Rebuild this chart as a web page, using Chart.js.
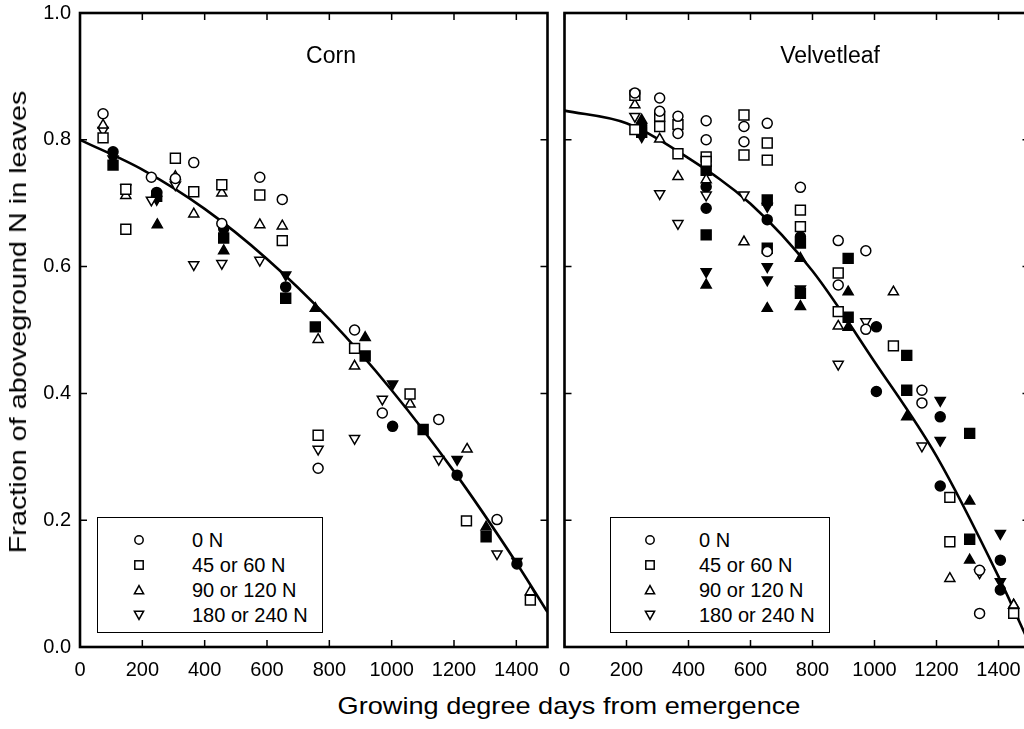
<!DOCTYPE html>
<html>
<head>
<meta charset="utf-8">
<title>Fraction of aboveground N in leaves</title>
<script src="https://cdn.jsdelivr.net/npm/chart.js@4.4.1/dist/chart.umd.min.js"></script>
<style>
  body {
    margin: 0;
    width: 1024px;
    height: 729px;
    overflow: hidden;
    position: relative;
    background: #fff;
    color: #000;
    font-family: "Liberation Sans", Arial, sans-serif;
  }
  canvas { position: absolute; top: 0; }
  #corn { left: 0; }
  #velvet { left: 556px; }
  .panel-title {
    position: absolute;
    font-size: 23px;
    white-space: nowrap;
    transform: translate(-50%, -50%);
  }
  .axis-title {
    position: absolute;
    font-size: 24px;
    white-space: nowrap;
  }
  .legend {
    position: absolute;
    top: 517px;
    height: 116px;
    box-sizing: border-box;
    border: 1.5px solid #000;
    background: #fff;
  }
  .legend .mark, .legend .label {
    position: absolute;
    transform: translateY(-50%);
  }
  .legend .mark { width: 12px; height: 12px; margin-left: -6px; }
  .legend .label { font-size: 20px; white-space: nowrap; }
</style>
</head>
<body>
<canvas id="corn" width="556" height="682"></canvas>
<canvas id="velvet" width="482" height="682"></canvas>

<div class="panel-title" style="left:331px; top:55px;">Corn</div>
<div class="panel-title" style="left:830px; top:55px;">Velvetleaf</div>

<div class="axis-title" style="left:18px; top:322px; transform: translate(-50%, -50%) rotate(-90deg) scaleX(1.2);">Fraction of aboveground N in leaves</div>
<div class="axis-title" style="left:569px; top:706px; transform: translate(-50%, -50%) scaleX(1.13);">Growing degree days from emergence</div>

<div class="legend" id="corn-legend" style="left:97px; width:226px;"></div>
<div class="legend" id="velvet-legend" style="left:610px; width:220px;"></div>

<script>
// N rate groups (legend order)
const treatments = ['0 N', '45 or 60 N', '90 or 120 N', '180 or 240 N'];

// [growing degree days, fraction of N in leaves], one list per N group
const cornOpen = [
  [[74, .841], [229, .741], [306, .739], [365, .764], [455, .668], [577, .741], [649, .706], [764, .282], [881, .500], [970, .369], [1151, .359], [1338, .201]],
  [[74, .803], [147, .659], [147, .722], [306, .771], [365, .718], [455, .729], [577, .713], [649, .641], [764, .334], [881, .471], [1059, .399], [1240, .199], [1445, .074]],
  [[74, .823], [147, .712], [306, .742], [365, .683], [455, .716], [577, .666], [649, .664], [764, .485], [881, .443], [1059, .383], [1242, .312], [1445, .087]],
  [[74, .815], [147, .724], [229, .705], [306, .729], [365, .603], [455, .605], [577, .610], [764, .312], [881, .329], [970, .391], [1151, .296], [1338, .147]]
];
const cornFilled = [
  [[106, .781], [246, .717], [461, .660], [660, .568], [1003, .348], [1210, .271], [1402, .131]],
  [[106, .760], [246, .711], [461, .645], [660, .550], [755, .505], [915, .459], [1101, .343], [1303, .174]],
  [[248, .666], [461, .625], [755, .534], [915, .488], [1303, .189]],
  [[106, .770], [246, .706], [660, .587], [1003, .415], [1210, .296], [1402, .135]]
];

const velvetOpen = [
  [[227, .874], [307, .866], [307, .845], [366, .837], [366, .810], [457, .830], [457, .800], [579, .821], [579, .797], [654, .826], [654, .624], [761, .725], [883, .641], [883, .571], [972, .625], [972, .501], [1153, .405], [1153, .385], [1339, .121], [1339, .053]],
  [[227, .870], [227, .816], [307, .837], [307, .821], [366, .824], [366, .778], [457, .773], [457, .766], [579, .839], [579, .776], [654, .795], [654, .768], [761, .689], [761, .663], [883, .590], [883, .529], [1061, .475], [1243, .236], [1243, .166], [1449, .053]],
  [[227, .855], [307, .801], [366, .742], [457, .737], [579, .639], [883, .506], [1061, .560], [1243, .108], [1449, .066]],
  [[227, .837], [307, .715], [366, .668], [457, .713], [579, .713], [883, .446], [972, .513], [1153, .317], [1339, .117]]
];
const velvetFilled = [
  [[249, .823], [457, .726], [457, .692], [654, .674], [761, .647], [1006, .505], [1006, .403], [1212, .363], [1212, .254], [1406, .137], [1406, .090]],
  [[249, .812], [457, .752], [457, .650], [654, .705], [654, .629], [761, .637], [761, .558], [915, .613], [915, .520], [1104, .460], [1104, .405], [1307, .337], [1307, .170]],
  [[249, .831], [457, .571], [654, .534], [761, .613], [761, .537], [915, .560], [915, .504], [1104, .363], [1307, .230], [1307, .137], [1449, .066]],
  [[249, .805], [457, .592], [654, .695], [654, .600], [654, .579], [761, .565], [1212, .389], [1212, .326], [1406, .179], [1406, .103]]
];

// fitted curves
const fitGdd = [0, 200, 400, 600, 800, 1000, 1200, 1400, 1500];
const cornFit = [.800, .753, .691, .612, .517, .405, .277, .133, .055];
const velvetFit = [.846, .826, .771, .699, .593, .450, .301, .111, .005];

const FONT = '"Liberation Sans", Arial, sans-serif';

// marker look for each N group: circle, square, triangle, inverted triangle
const markers = [
  { style: 'circle', radius: 5, rotation: 0 },
  { style: 'rect', radius: 7, rotation: 0 },
  { style: 'triangle', radius: 5.8, rotation: 0 },
  { style: 'triangle', radius: 5.8, rotation: 180 }
];

const toPoints = (pairs) => pairs.map(p => ({ x: p[0], y: p[1] }));

function pointSets(groups, filled) {
  return groups.map((pairs, i) => ({
    label: treatments[i] + (filled ? ' (filled)' : ''),
    data: toPoints(pairs),
    pointStyle: markers[i].style,
    pointRadius: markers[i].radius,
    pointRotation: markers[i].rotation,
    pointBackgroundColor: filled ? '#000' : '#fff',
    pointBorderColor: '#000',
    pointBorderWidth: 1.5,
    order: filled ? 2 : 1
  }));
}

// frame with inward ticks on all four sides
const framePlugin = {
  id: 'frame',
  afterDatasetsDraw(chart) {
    const { ctx, chartArea: a, scales } = chart;
    const x = scales.x, y = scales.y;
    ctx.save();
    ctx.strokeStyle = '#000';
    ctx.lineWidth = 1.5;
    ctx.beginPath();
    x.ticks.forEach(t => {
      const px = x.getPixelForValue(t.value);
      ctx.moveTo(px, a.bottom); ctx.lineTo(px, a.bottom - 7);
      ctx.moveTo(px, a.top); ctx.lineTo(px, a.top + 7);
    });
    y.ticks.forEach(t => {
      const py = y.getPixelForValue(t.value);
      ctx.moveTo(a.left, py); ctx.lineTo(a.left + 7, py);
      ctx.moveTo(a.right, py); ctx.lineTo(a.right - 7, py);
    });
    ctx.stroke();
    ctx.lineWidth = 2.6;
    ctx.strokeRect(a.left, a.top, a.right - a.left, a.bottom - a.top);
    ctx.restore();
  }
};

// keep the plot area fixed: no extra room for labels overhanging the ends
function noOverhang(s) {
  s.paddingLeft = 0;
  s.paddingRight = 0;
  s.paddingTop = 0;
  s.paddingBottom = 0;
}

function makePanel(canvasId, open, filled, fit, showYLabels) {
  const fitSet = {
    type: 'line',
    label: 'fit',
    data: fitGdd.map((g, i) => ({ x: g, y: fit[i] })),
    showLine: true,
    borderColor: '#000',
    borderWidth: 2.6,
    pointRadius: 0,
    cubicInterpolationMode: 'monotone',
    order: 3
  };
  return new Chart(document.getElementById(canvasId), {
    type: 'scatter',
    data: { datasets: [fitSet, ...pointSets(filled, true), ...pointSets(open, false)] },
    options: {
      responsive: false,
      animation: false,
      layout: { padding: { top: 13, right: 7, left: showYLabels ? 0 : 6, bottom: 0 } },
      plugins: { legend: { display: false }, tooltip: { enabled: false } },
      scales: {
        x: {
          type: 'linear',
          min: 0,
          max: 1500,
          grid: { display: false, drawTicks: false },
          border: { display: false },
          ticks: {
            stepSize: 200,
            includeBounds: false,
            maxRotation: 0,
            padding: 11,
            color: '#000',
            font: { family: FONT, size: 20 },
            callback: (v) => String(v)
          },
          afterFit: (s) => { s.height = 35; noOverhang(s); }
        },
        y: {
          type: 'linear',
          min: 0,
          max: 1,
          grid: { display: false, drawTicks: false },
          border: { display: false },
          ticks: {
            display: showYLabels,
            stepSize: 0.2,
            padding: 9,
            color: '#000',
            font: { family: FONT, size: 20 },
            callback: (v) => v.toFixed(1)
          },
          afterFit: (s) => { s.width = showYLabels ? 80 : 0; noOverhang(s); }
        }
      }
    },
    plugins: [framePlugin]
  });
}

function legendMarker(i) {
  const shapes = [
    '<circle cx="6" cy="6" r="4.2"/>',
    '<rect x="1.8" y="1.8" width="8.4" height="8.4"/>',
    '<polygon points="6,1.6 10.6,9.8 1.4,9.8"/>',
    '<polygon points="1.4,2.2 10.6,2.2 6,10.4"/>'
  ];
  return '<svg class="mark" viewBox="0 0 12 12" fill="#fff" stroke="#000" stroke-width="1.5">' + shapes[i] + '</svg>';
}

function buildLegend(id, markX, textX) {
  const box = document.getElementById(id);
  treatments.forEach((name, i) => {
    const top = 22 + i * 25;
    const m = document.createElement('div');
    m.innerHTML = legendMarker(i);
    const svg = m.firstChild;
    svg.style.left = markX + 'px';
    svg.style.top = top + 'px';
    box.appendChild(svg);
    const t = document.createElement('span');
    t.className = 'label';
    t.textContent = name;
    t.style.left = textX + 'px';
    t.style.top = top + 'px';
    box.appendChild(t);
  });
}

makePanel('corn', cornOpen, cornFilled, cornFit, true);
makePanel('velvet', velvetOpen, velvetFilled, velvetFit, false);
buildLegend('corn-legend', 41, 94);
buildLegend('velvet-legend', 39, 88);
</script>
</body>
</html>
